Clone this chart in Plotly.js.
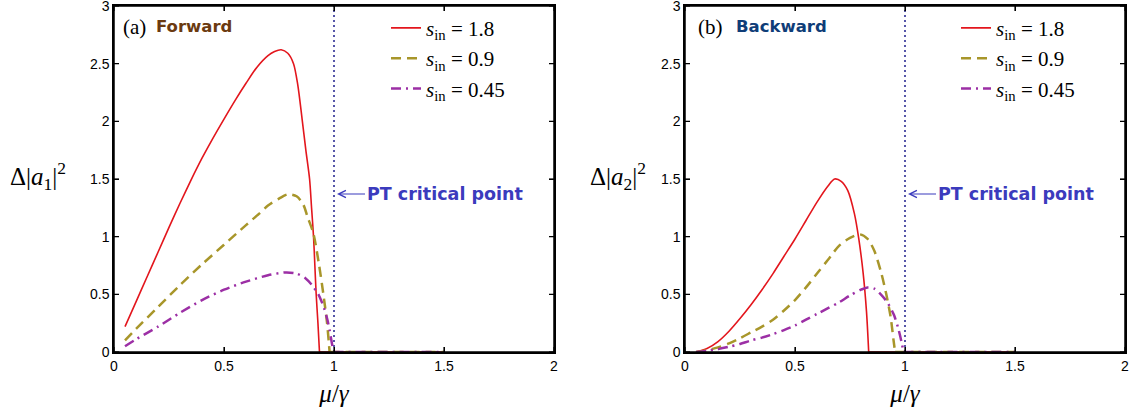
<!DOCTYPE html>
<html>
<head>
<meta charset="utf-8">
<script src="https://cdn.plot.ly/plotly-3.0.1.min.js"></script>
<style>html,body{margin:0;padding:0;background:#fff;}#chart{width:1130px;height:408px;}</style>
</head>
<body>
<div id="chart"></div>
<script>
// ---- Data ----
const xTicks = [0, 0.5, 1, 1.5, 2];
const xTickText = ['0', '0.5', '1', '1.5', '2'];
const yTicks = [0, 0.5, 1, 1.5, 2, 2.5, 3];
const yTickText = ['0', '0.5', '1', '1.5', '2', '2.5', '3'];
const seriesNames = ['<i>s</i><sub>in</sub> = 1.8', '<i>s</i><sub>in</sub> = 0.9', '<i>s</i><sub>in</sub> = 0.45'];

// (a) Forward
const muFwd18 = [0.05,0.1,0.15,0.2,0.25,0.3,0.35,0.4,0.45,0.5,0.55,0.6,0.65,0.7,0.73,0.76,0.79,0.816,0.835,0.855,0.872,0.889,0.898,0.907,0.913,0.919,0.927,0.934];
const dFwd18  = [0.22,0.435,0.65,0.865,1.08,1.29,1.49,1.68,1.855,2.02,2.18,2.33,2.47,2.57,2.605,2.62,2.59,2.5,2.32,2.02,1.75,1.5,1.25,1.0,0.75,0.5,0.25,0];
const muFwd09 = [0.05,0.1,0.2,0.3,0.4,0.5,0.6,0.66,0.7,0.75,0.79,0.83,0.86,0.88,0.906,0.93,0.951,0.968,0.98];
const dFwd09  = [0.10,0.2,0.39,0.58,0.76,0.93,1.1,1.2,1.27,1.33,1.367,1.35,1.28,1.17,1.03,0.78,0.51,0.26,0];
const muFwd045 = [0.05,0.1,0.2,0.3,0.4,0.5,0.6,0.7,0.78,0.83,0.87,0.9,0.929,0.955,0.97,0.98,0.99,0.998];
const dFwd045  = [0.05,0.11,0.22,0.34,0.45,0.54,0.61,0.665,0.69,0.68,0.64,0.58,0.5,0.38,0.28,0.19,0.08,0];

// (b) Backward
const muBwd18 = [0.05,0.1,0.15,0.2,0.25,0.3,0.35,0.4,0.45,0.5,0.55,0.6,0.65,0.68,0.71,0.74,0.77,0.79,0.81,0.825,0.835];
const dBwd18  = [0,0.03,0.09,0.18,0.29,0.41,0.54,0.68,0.83,0.98,1.14,1.3,1.44,1.5,1.48,1.4,1.2,0.98,0.68,0.35,0];
const muBwd09 = [0.05,0.1,0.15,0.2,0.25,0.3,0.35,0.4,0.45,0.5,0.55,0.6,0.65,0.7,0.75,0.795,0.83,0.86,0.89,0.915,0.935,0.948,0.955];
const dBwd09  = [0,0.015,0.04,0.075,0.12,0.17,0.22,0.28,0.36,0.45,0.56,0.68,0.8,0.92,0.99,1.02,0.98,0.88,0.7,0.5,0.3,0.1,0];
const muBwd045 = [0.05,0.1,0.15,0.2,0.25,0.3,0.35,0.4,0.45,0.5,0.55,0.6,0.65,0.7,0.75,0.8,0.83,0.86,0.89,0.92,0.95,0.97,0.985,0.993];
const dBwd045  = [0,0.01,0.025,0.045,0.07,0.1,0.125,0.155,0.19,0.23,0.28,0.33,0.38,0.43,0.49,0.54,0.56,0.55,0.5,0.43,0.32,0.2,0.08,0];

// zero tails after each curve falls to zero (start, end)
const tailFwd18 = [0.934, 1.5], tailFwd09 = [0.98, 1.5], tailFwd045 = [0.998, 1.5];
const tailBwd18 = [0.835, 1.5], tailBwd09 = [0.955, 1.5], tailBwd045 = [0.993, 1.5];
const tailY = [0, 0];

const criticalX = [1, 1];
const criticalY = [0, 3];
const ptLabelY = 1.37;

// ---- Styles ----
const RED = '#e3161d', OLIVE = '#a8962a', PURPLE = '#9c2fa5', DOT = '#5656a8';
const lineStyles = [
  {color: RED, width: 1.6, dash: 'solid'},
  {color: OLIVE, width: 2.5, dash: '10px,6px'},
  {color: PURPLE, width: 2.5, dash: '10px,5px,2px,5px'}
];

function mk(x, y, i, xa, ya, leg) {
  return {x: x, y: y, xaxis: xa, yaxis: ya, type: 'scatter', mode: 'lines',
    name: seriesNames[i], line: Object.assign({shape: 'spline', smoothing: 0.8}, lineStyles[i]), legend: leg};
}
function tail(x, i, xa, ya) {
  return {x: x, y: tailY, xaxis: xa, yaxis: ya, type: 'scatter', mode: 'lines', showlegend: false,
    line: Object.assign({}, lineStyles[i])};
}
const traces = [
  {x: criticalX, y: criticalY, xaxis: 'x', yaxis: 'y', mode: 'lines', showlegend: false,
   line: {color: DOT, width: 2, dash: '2px,3px'}},
  {x: criticalX, y: criticalY, xaxis: 'x2', yaxis: 'y2', mode: 'lines', showlegend: false,
   line: {color: DOT, width: 2, dash: '2px,3px'}},
  mk(muFwd18, dFwd18, 0, 'x', 'y', 'legend'),
  mk(muFwd09, dFwd09, 1, 'x', 'y', 'legend'),
  mk(muFwd045, dFwd045, 2, 'x', 'y', 'legend'),
  tail(tailFwd18, 0, 'x', 'y'), tail(tailFwd09, 1, 'x', 'y'), tail(tailFwd045, 2, 'x', 'y'),
  mk(muBwd18, dBwd18, 0, 'x2', 'y2', 'legend2'),
  mk(muBwd09, dBwd09, 1, 'x2', 'y2', 'legend2'),
  mk(muBwd045, dBwd045, 2, 'x2', 'y2', 'legend2'),
  tail(tailBwd18, 0, 'x2', 'y2'), tail(tailBwd09, 1, 'x2', 'y2'), tail(tailBwd045, 2, 'x2', 'y2')
];

const W = 1130, H = 408, MT = 6, MB = 56;
const plotW = 440, plotH = H - MT - MB;
function axX(dom) {
  return {domain: dom, range: [0, 2], tickvals: xTicks, ticktext: xTickText,
    ticks: 'inside', ticklen: 5, showline: true, linecolor: '#000', tickcolor: '#000',
    linewidth: 1.5, mirror: 'ticks', showgrid: false, zeroline: false,
    tickfont: {family: 'Liberation Sans, Arial, sans-serif', size: 14, color: '#000'},
    title: {text: '<i>μ</i>/<i>γ</i>', font: {family: 'Liberation Serif, serif', size: 25, color: '#000'}, standoff: 12}};
}
function axY() {
  return {range: [0, 3], tickvals: yTicks, ticktext: yTickText,
    ticks: 'inside', ticklen: 5, showline: true, linecolor: '#000', tickcolor: '#000',
    linewidth: 1.5, mirror: 'ticks', showgrid: false, zeroline: false, ticklabeloverflow: 'allow',
    tickfont: {family: 'Liberation Sans, Arial, sans-serif', size: 14, color: '#000'}};
}

// Frame and inside tick marks on all four sides, placed through the axes' own scales
const TLX = 5 / plotW, TLY = 5 / plotH;
function frameShapes(xr, yr) {
  const k = {color: '#000', width: 1.2};
  const s = [];
  xTicks.forEach(function (t) {
    s.push({type: 'line', layer: 'above', xref: xr, yref: yr + ' domain', x0: t, x1: t, y0: 0, y1: TLY, line: k});
    s.push({type: 'line', layer: 'above', xref: xr, yref: yr + ' domain', x0: t, x1: t, y0: 1 - TLY, y1: 1, line: k});
  });
  yTicks.forEach(function (t) {
    s.push({type: 'line', layer: 'above', xref: xr + ' domain', yref: yr, x0: 0, x1: TLX, y0: t, y1: t, line: k});
    s.push({type: 'line', layer: 'above', xref: xr + ' domain', yref: yr, x0: 1 - TLX, x1: 1, y0: t, y1: t, line: k});
  });
  s.push({type: 'rect', layer: 'above', xref: xr + ' domain', yref: yr + ' domain', x0: 0, x1: 1, y0: 0, y1: 1,
    line: {color: '#000', width: 1.5}, fillcolor: 'rgba(0,0,0,0)'});
  return s;
}

const legendCommon = {bgcolor: 'rgba(0,0,0,0)', borderwidth: 0, xanchor: 'left', yanchor: 'top',
  font: {family: 'Liberation Serif, serif', size: 21, color: '#000'}, tracegroupgap: 0};

const serif = {family: 'Liberation Serif, serif', size: 21, color: '#000'};
const boldSans = (c) => ({family: 'DejaVu Sans, sans-serif', size: 16.5, color: c});
const ptFont = {family: 'DejaVu Sans, sans-serif', size: 17.5, color: '#3b3bbd'};
const yLabFont = {family: 'Liberation Serif, serif', size: 25, color: '#000'};

function ptNote(xr, yr) {
  return {xref: xr, yref: yr, x: 1, y: ptLabelY, ax: 31, ay: 0, xanchor: 'left', yanchor: 'middle',
    text: '<b>PT critical point</b>', showarrow: true, arrowhead: 5, arrowsize: 1.2, arrowwidth: 1.2,
    arrowcolor: '#3b3bbd', standoff: 3, font: ptFont};
}

const layout = {
  width: W, height: H, paper_bgcolor: '#fff', plot_bgcolor: '#fff',
  margin: {l: 0, r: 0, t: MT, b: MB},
  showlegend: true,
  xaxis: axX([114 / W, 554 / W]),
  yaxis: axY(),
  xaxis2: axX([685 / W, 1125 / W]),
  yaxis2: axY(),
  legend: Object.assign({x: 386 / W, y: 0.995}, legendCommon),
  legend2: Object.assign({x: 956 / W, y: 0.995}, legendCommon),
  shapes: frameShapes('x', 'y').concat(frameShapes('x2', 'y2')),
  annotations: [
    {xref: 'paper', yref: 'paper', x: 121 / W, y: 0.94, xanchor: 'left', yanchor: 'middle', text: '(a)', showarrow: false, font: serif},
    {xref: 'paper', yref: 'paper', x: 154 / W, y: 0.94, xanchor: 'left', yanchor: 'middle', text: '<b>Forward</b>', showarrow: false, font: boldSans('#6b3a10')},
    {xref: 'paper', yref: 'paper', x: 696 / W, y: 0.94, xanchor: 'left', yanchor: 'middle', text: '(b)', showarrow: false, font: serif},
    {xref: 'paper', yref: 'paper', x: 734 / W, y: 0.94, xanchor: 'left', yanchor: 'middle', text: '<b>Backward</b>', showarrow: false, font: boldSans('#0f3d78')},
    ptNote('x', 'y'),
    ptNote('x2', 'y2'),
    {xref: 'paper', yref: 'y', x: 8 / W, y: 1.53, xanchor: 'left', yanchor: 'middle', text: 'Δ|<i>a</i><sub>1</sub>|<sup>2</sup>', showarrow: false, font: yLabFont},
    {xref: 'paper', yref: 'y2', x: 588 / W, y: 1.53, xanchor: 'left', yanchor: 'middle', text: 'Δ|<i>a</i><sub>2</sub>|<sup>2</sup>', showarrow: false, font: yLabFont}
  ]
};
layout.xaxis.anchor = 'y';
layout.yaxis.anchor = 'x';
layout.xaxis2.anchor = 'y2';
layout.yaxis2.anchor = 'x2';

Plotly.newPlot('chart', traces, layout, {displayModeBar: false});
</script>
</body>
</html>
